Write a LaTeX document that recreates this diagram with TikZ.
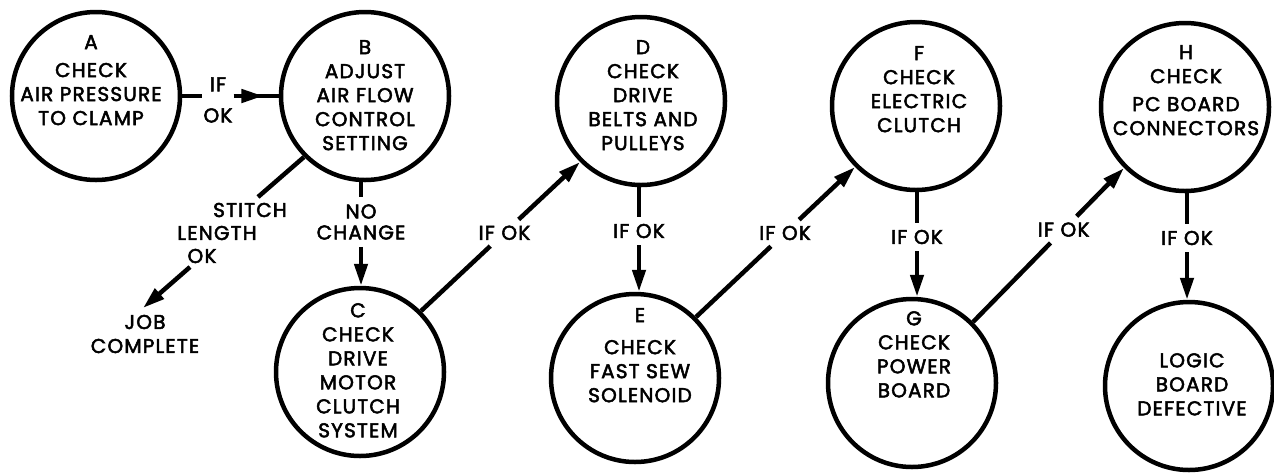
\documentclass[tikz,border=0pt]{standalone}
\usepackage{fontspec}
\setmainfont{Poppins}[FakeBold=2.5,LetterSpace=6]
\usetikzlibrary{arrows.meta,decorations.markings}
\begin{document}
\begin{tikzpicture}[x=1pt,y=-1pt,
  circ/.style={circle, draw, line width=4.5pt, minimum size=168pt, inner sep=0pt},
  txt/.style={align=center, font=\fontsize{20}{24}\selectfont, inner sep=0pt, anchor=north},
  lbl/.style={align=center, font=\fontsize{20}{24}\selectfont, inner sep=6pt},
  vlbl/.style={align=center, font=\fontsize{20}{21}\selectfont, inner xsep=4pt, inner ysep=7pt},
  conn/.style={line width=4.5pt},
  tip/.tip={Triangle[length=22pt,width=13pt]},
  arr/.style={conn, -tip},
  midarr/.style={conn, postaction={decorate},
    decoration={markings, mark=at position 0.66 with {\arrow{tip}}}},
]
\useasboundingbox (0,0) rectangle (1274,475);

% circles
\node[circ] (A) at (96,96) {};
\node[circ] (B) at (365,96) {};
\node[circ] (C) at (360,372) {};
\node[circ] (D) at (641,101) {};
\node[circ] (E) at (635,378) {};
\node[circ] (F) at (916,106) {};
\node[circ] (G) at (912,383) {};
\node[circ] (H) at (1185,107) {};
\node[circ] (L) at (1189,386) {};

% circle texts
\node[txt] (At) at (91,35) {A\\[4pt]CHECK\\AIR PRESSURE\\TO CLAMP};
\node[txt] (Bt) at (365,40) {B\\ADJUST\\AIR FLOW\\CONTROL\\SETTING};
\node[txt] (Ct) at (358,303) {C\\CHECK\\DRIVE\\MOTOR\\CLUTCH\\SYSTEM};
\node[txt] (Dt) at (643,40) {D\\CHECK\\DRIVE\\BELTS AND\\PULLEYS};
\node[txt] (Et) at (640,308) {E\\[8pt]CHECK\\FAST SEW\\SOLENOID};
\node[txt] (Ft) at (919,46) {F\\CHECK\\ELECTRIC\\CLUTCH};
\node[txt] (Gt) at (914,311) {G\\CHECK\\POWER\\BOARD};
\node[txt] (Ht) at (1186,45) {H\\CHECK\\[4pt]PC BOARD\\CONNECTORS};
\node[txt] (Lt) at (1192,353) {LOGIC\\BOARD\\DEFECTIVE};

% A -> B
\node[align=center, font=\fontsize{20}{24}\selectfont, inner sep=1pt] (ab) at (218,100) {IF\\[7pt]OK};
\draw[conn] (A.east) -- (A.east -| ab.west);
\draw[midarr] (ab.east |- B.west) -- (B.west);

% B -> job complete
\node[vlbl, inner sep=0pt] (st1) at (250,210) {STITCH};
\node[vlbl, inner sep=0pt] (st2) at (217,233) {LENGTH};
\node[vlbl, inner sep=0pt] (st3) at (202,256) {OK};
\node[align=center, font=\fontsize{20}{24}\selectfont, inner sep=0pt] (job) at (145,334) {JOB\\COMPLETE};
\coordinate (s1) at (258,197);
\coordinate (s2) at (190,267);
\coordinate (jt) at (143,308);
\draw[conn] (B.225) -- (s1);
\draw[arr] (s2) -- (jt);

% B -> C
\node[vlbl] (bc) at (361,222) {NO\\CHANGE};
\draw[conn] (bc.north |- B.south) -- (bc.north);
\draw[arr] (bc.south) -- (bc.south |- C.north);

% C -> D
\path (C.45) -- (D.225) node[lbl, pos=0.525] (cd) {IF OK};
\draw[conn] (C.45) -- (cd);
\draw[arr] (cd) -- (D.225);

% D -> E
\node[vlbl] (de) at (639,231) {IF OK};
\draw[conn] (de.north |- D.south) -- (de.north);
\draw[arr] (de.south) -- (de.south |- E.north);

% E -> F
\path (E.45) -- (F.225) node[lbl, pos=0.56] (ef) {IF OK};
\draw[conn] (E.45) -- (ef);
\draw[arr] (ef) -- (F.225);

% F -> G
\node[vlbl] (fg) at (917,237) {IF OK};
\draw[conn] (fg.north |- F.south) -- (fg.north);
\draw[arr] (fg.south) -- (fg.south |- G.north);

% G -> H
\path (G.45) -- (H.225) node[lbl, pos=0.6] (gh) {IF OK};
\draw[conn] (G.45) -- (gh);
\draw[arr] (gh) -- (H.225);

% H -> L
\node[vlbl] (hl) at (1187,238) {IF OK};
\draw[conn] (hl.north |- H.south) -- (hl.north);
\draw[arr] (hl.south) -- (hl.south |- L.north);
\end{tikzpicture}
\end{document}
